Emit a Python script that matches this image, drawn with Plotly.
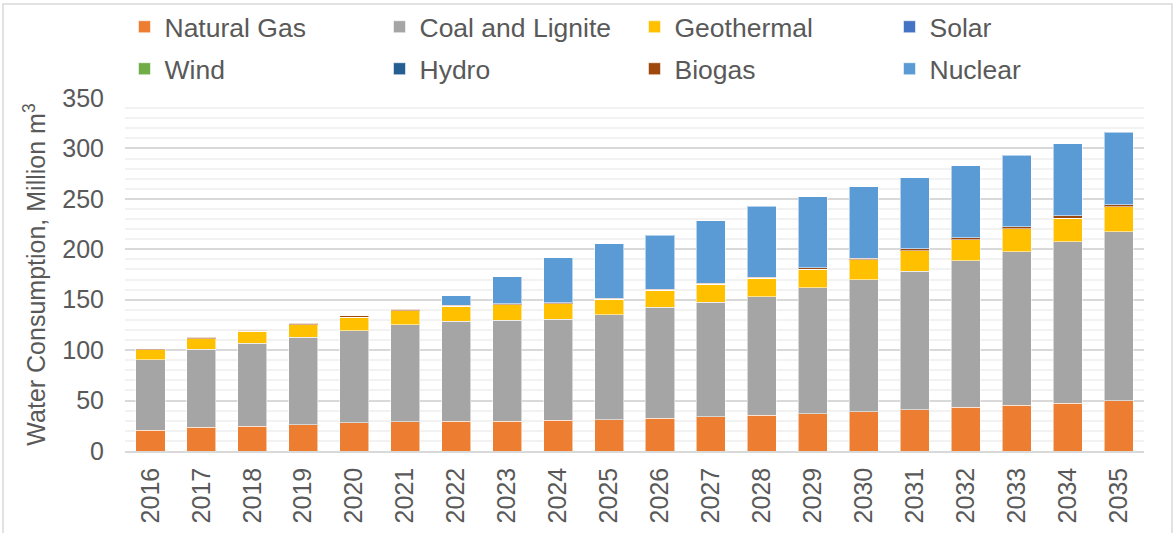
import plotly.graph_objects as go

years = [str(y) for y in range(2016, 2036)]

natural_gas = [20.5, 23.5, 24.5, 26.0, 28.0, 29.0, 29.5, 29.7, 30.3, 31.2,
               32.5, 33.8, 35.4, 37.1, 39.1, 41.1, 43.4, 45.3, 47.3, 49.9]
coal_lignite = [70.0, 77.2, 82.2, 86.8, 91.1, 96.3, 99.0, 100.0, 100.4, 103.9,
                109.9, 113.9, 117.6, 124.7, 130.7, 137.3, 145.1, 152.4, 160.3, 167.7]
geothermal = [9.9, 10.6, 11.9, 12.6, 13.5, 13.9, 14.8, 15.3, 15.1, 15.6,
              16.8, 17.4, 18.1, 18.2, 19.8, 20.4, 21.1, 22.8, 23.3, 24.8]
solar = [0.0] * 20
wind = [0.0] * 20
hydro = [0.0] * 20
biogas = [1.0, 1.5, 1.3, 1.5, 1.3, 1.5, 1.0, 0.9, 1.0, 1.0,
          1.0, 1.0, 1.3, 1.5, 1.3, 1.5, 2.0, 1.7, 2.2, 2.0]
nuclear = [0.0, 0.0, 0.0, 0.0, 0.0, 0.0, 9.5, 27.0, 44.8, 53.7,
           53.8, 62.1, 70.2, 70.6, 71.0, 70.4, 71.1, 71.1, 71.5, 71.6]

series = [
    ("Natural Gas", natural_gas, "#ED7D31", "legend"),
    ("Coal and Lignite", coal_lignite, "#A5A5A5", "legend"),
    ("Geothermal", geothermal, "#FFC000", "legend"),
    ("Solar", solar, "#4472C4", "legend"),
    ("Wind", wind, "#70AD47", "legend2"),
    ("Hydro", hydro, "#255E91", "legend2"),
    ("Biogas", biogas, "#9E480E", "legend2"),
    ("Nuclear", nuclear, "#5B9BD5", "legend2"),
]

FONT = "Liberation Sans, Arial, sans-serif"
TXT = "#595959"

fig = go.Figure()
for name, vals, col, leg in series:
    fig.add_trace(go.Bar(
        x=years, y=vals, name=name, legend=leg,
        marker=dict(color=col, line=dict(color="rgba(255,255,255,0.55)", width=1)),
    ))

leg_common = dict(
    orientation="h",
    x=-0.0005, xanchor="left",
    yanchor="middle",
    entrywidth=210, entrywidthmode="pixels",
    traceorder="normal",
    font=dict(family=FONT, size=26.5, color=TXT),
    itemwidth=30,
    bgcolor="rgba(0,0,0,0)",
)

fig.update_layout(
    barmode="stack",
    bargap=0.43,
    width=1176, height=533,
    margin=dict(l=125, r=32, t=98, b=82, autoexpand=False),
    paper_bgcolor="white",
    plot_bgcolor="white",
    font=dict(family=FONT, size=25, color=TXT),
    showlegend=True,
    legend=dict(leg_common, y=(451 - 27) / 353),
    legend2=dict(leg_common, y=(451 - 69) / 353),
    xaxis=dict(
        tickangle=-90,
        tickfont=dict(family=FONT, size=25, color=TXT),
        showgrid=False,
        showline=True, linecolor="#D9D9D9", linewidth=1.5,
        ticks="", ticklabelstandoff=5,
    ),
    yaxis=dict(
        range=[0, 350],
        dtick=50,
        tickfont=dict(family=FONT, size=25, color=TXT),
        showgrid=True, gridcolor="#D9D9D9", gridwidth=1.5,
        minor=dict(dtick=10, showgrid=True, gridcolor="#F2F2F2", gridwidth=1.5),
        zeroline=False,
        showline=False,
        ticks="", ticklabelstandoff=20,
        title=dict(text="Water Consumption, Million m<sup>3</sup>",
                   font=dict(family=FONT, size=25, color=TXT), standoff=9),
    ),
    shapes=[dict(
        type="rect", xref="paper", yref="paper",
        x0=(3 - 125) / 1019, x1=(1172 - 125) / 1019,
        y0=(451 - 545) / 353, y1=(451 - 4) / 353,
        line=dict(color="#D9D9D9", width=1.5), fillcolor="rgba(0,0,0,0)",
        layer="below",
    )],
)

fig.write_html("out.html",
               config={"displayModeBar": False},
               post_script="document.body.style.margin='0';document.body.style.overflow='hidden';")
